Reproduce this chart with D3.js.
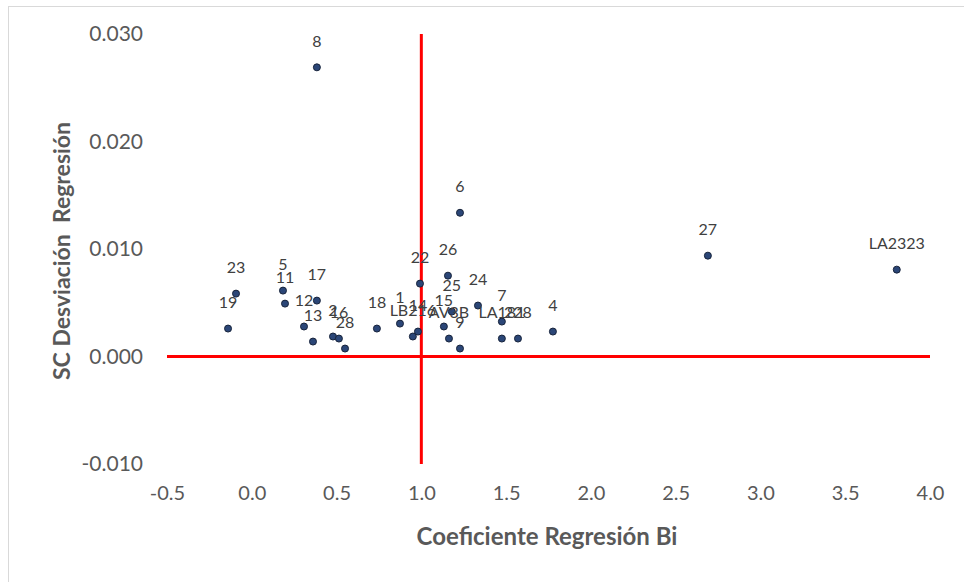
<!DOCTYPE html>
<html>
<head>
<meta charset="utf-8">
<script src="https://cdn.jsdelivr.net/npm/d3@7"></script>
<style>
    body { margin: 0; background: #fff; }
    svg { display: block; }
    .tick text { font-family: Lato, "Open Sans", sans-serif; fill: #595959; }
    .ptLabel { font-family: Lato, "Open Sans", sans-serif; font-size: 16px; fill: #404040; }
    .axisTitle { font-family: Lato, "Open Sans", sans-serif; font-weight: bold; fill: #595959; }
</style>
</head>
<body>
<div id="scene"></div>
<script>
// genotype labels, regression coefficient (Bi) and SC deviation
const labels = ['8', '6', '27', 'LA2323', '23', '19', '5', '11', '17', '12', '13', '2', '16', '28',
    '18', '1', 'LB216', '14', '22', '26', '25', '15', 'AV3B', '9', '24', '7', 'LA181', '228', '4'];
const coefBi = [0.384, 1.228, 2.690, 3.804, -0.093, -0.140, 0.184, 0.196, 0.384, 0.308, 0.361, 0.479, 0.514, 0.550,
    0.738, 0.874, 0.950, 0.980, 0.992, 1.157, 1.180, 1.133, 1.163, 1.228, 1.334, 1.475, 1.475, 1.570, 1.776];
const scDesv = [0.0269, 0.01337, 0.00938, 0.00808, 0.00585, 0.0026, 0.00613, 0.00492, 0.0052, 0.00279, 0.00139, 0.00186, 0.00167, 0.00074,
    0.0026, 0.00306, 0.00186, 0.00232, 0.00678, 0.00752, 0.00418, 0.00279, 0.00167, 0.00074, 0.00474, 0.00325, 0.00167, 0.00167, 0.00232];

const xTicks = [-0.5, 0, 0.5, 1, 1.5, 2, 2.5, 3, 3.5, 4];
const yTicks = [-0.01, 0, 0.01, 0.02, 0.03];

// reference lines: Bi = 1 and SC = 0
const refX = 1;
const refY = 0;

const width = 964;
const height = 582;

const xScale = d3.scaleLinear().domain([-0.5, 4]).range([167, 930]);
const yScale = d3.scaleLinear().domain([-0.01, 0.03]).range([464, 34]);

const svg = d3.select("#scene")
    .append("svg")
    .attr("width", width)
    .attr("height", height);

// chart frame (only top/left edge visible in the picture)
svg.append("rect")
    .attr("x", 8.5)
    .attr("y", 6.5)
    .attr("width", 1000)
    .attr("height", 1000)
    .attr("fill", "none")
    .attr("stroke", "#d9d9d9");

const xAxis = svg.append("g")
    .attr("transform", `translate(0,${yScale(-0.01)})`)
    .call(d3.axisBottom(xScale).tickValues(xTicks).tickSize(0).tickPadding(22)
        .tickFormat(d => d.toFixed(1)));
xAxis.select(".domain").remove();
xAxis.selectAll("text").style("font-size", "20px");

const yAxis = svg.append("g")
    .attr("transform", `translate(${xScale(-0.5)},0)`)
    .call(d3.axisLeft(yScale).tickValues(yTicks).tickSize(0).tickPadding(24)
        .tickFormat(d => d.toFixed(3)));
yAxis.select(".domain").remove();
yAxis.selectAll("text").style("font-size", "21px");

// red reference lines
svg.append("line")
    .attr("x1", xScale(-0.5))
    .attr("x2", xScale(4))
    .attr("y1", yScale(refY))
    .attr("y2", yScale(refY))
    .attr("stroke", "#ff0000")
    .attr("stroke-width", 3);

svg.append("line")
    .attr("x1", xScale(refX))
    .attr("x2", xScale(refX))
    .attr("y1", yScale(0.03))
    .attr("y2", yScale(-0.01))
    .attr("stroke", "#ff0000")
    .attr("stroke-width", 3);

const points = labels.map((l, i) => ({ label: l, x: coefBi[i], y: scDesv[i] }));

svg.selectAll(".dot")
    .data(points)
    .enter().append("circle")
    .attr("class", "dot")
    .attr("cx", d => xScale(d.x))
    .attr("cy", d => yScale(d.y))
    .attr("r", 3.5)
    .attr("fill", "#2b4677")
    .attr("stroke", "#17233b")
    .attr("stroke-width", 1);

svg.selectAll(".ptLabel")
    .data(points)
    .enter().append("text")
    .attr("class", "ptLabel")
    .attr("x", d => xScale(d.x))
    .attr("y", d => yScale(d.y) - 26)
    .attr("dy", "0.35em")
    .attr("text-anchor", "middle")
    .text(d => d.label);

svg.append("text")
    .attr("class", "axisTitle")
    .attr("x", 547)
    .attr("y", 537)
    .attr("dy", "0.35em")
    .attr("text-anchor", "middle")
    .style("font-size", "24px")
    .text("Coeficiente Regresión Bi");

svg.append("text")
    .attr("class", "axisTitle")
    .attr("transform", "translate(62,251) rotate(-90)")
    .attr("dy", "0.35em")
    .attr("text-anchor", "middle")
    .style("font-size", "23px")
    .style("white-space", "pre")
    .text("SC Desviación  Regresión");
</script>
</body>
</html>
